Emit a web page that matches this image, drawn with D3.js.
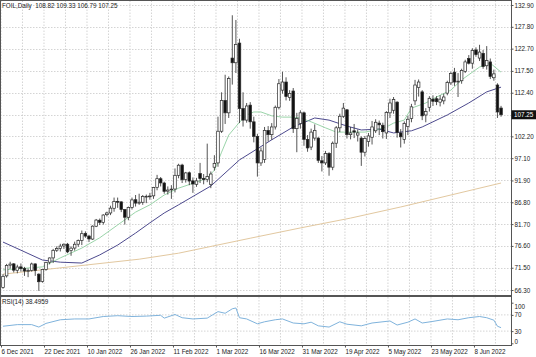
<!DOCTYPE html>
<html><head><meta charset="utf-8">
<script src="https://cdn.jsdelivr.net/npm/d3@7"></script>
<style>
html,body{margin:0;padding:0;background:#fff;}
svg{display:block;font-family:"Liberation Sans",Arial,sans-serif;}
</style></head>
<body><svg id="c" width="536" height="357"></svg>
<script>
const symbolTitle = "FOIL,Daily  108.82 109.33 106.79 107.25";
const rsiTitle = "RSI(14) 38.4959";
const opens = [66.9,69.6,72.1,72.4,70.9,71.7,71.3,70.7,70.9,72.4,70.0,68.3,71.1,72.8,73.8,75.6,76.0,76.6,77.0,75.5,76.1,77.0,77.9,79.5,78.9,78.2,81.2,82.6,82.1,83.9,84.3,85.4,87.0,86.9,85.1,83.3,85.6,87.4,86.6,86.8,88.2,88.2,88.3,90.3,92.3,91.3,89.4,89.7,89.9,93.1,95.5,92.1,93.7,91.8,91.0,93.5,92.4,92.1,91.0,95.0,96.0,103.4,110.6,107.7,120.5,119.4,124.0,108.7,106.0,109.5,105.6,102.2,96.0,96.8,103.6,102.6,104.4,109.0,113.0,114.9,111.3,112.8,104.0,105.2,107.7,101.5,99.7,101.8,101.8,96.5,96.0,98.2,95.0,100.6,104.2,106.9,108.4,102.6,103.5,102.5,101.8,98.5,101.0,102.0,103.5,105.3,104.8,103.0,107.7,108.3,110.2,103.0,101.5,104.5,106.4,110.5,113.6,112.6,107.2,109.0,110.9,111.0,110.2,110.5,112.3,114.7,117.2,115.0,115.2,117.4,120.4,119.3,122.4,120.5,121.6,118.7,119.6,115.9,114.2,108.82];
const highs = [70.0,72.4,72.9,72.6,72.2,72.5,71.7,71.3,72.7,72.5,70.2,71.2,72.9,73.9,75.9,76.5,77.1,77.2,77.3,76.5,77.6,78.1,80.2,80.0,79.2,81.4,82.9,83.0,84.0,84.6,86.0,87.9,87.9,87.0,85.2,85.8,87.9,88.5,88.8,88.5,88.6,89.0,90.4,93.2,92.7,91.6,90.5,90.8,94.7,95.8,95.8,93.9,94.0,92.6,92.5,96.0,93.4,100.5,94.0,97.8,106.8,112.5,116.6,116.2,130.5,129.4,125.0,112.5,110.0,110.2,106.8,102.8,99.6,104.4,104.6,105.3,109.4,115.6,117.3,116.0,113.0,113.5,107.7,108.3,108.0,102.5,104.0,105.0,102.0,97.6,98.8,98.5,101.0,104.6,107.5,110.0,108.6,104.4,105.1,103.8,102.2,102.3,103.0,105.8,106.2,105.9,105.4,108.1,111.0,111.4,110.4,103.9,105.7,107.0,109.8,115.4,115.5,113.0,108.8,111.6,111.8,111.6,111.8,112.2,115.2,117.3,118.2,117.0,118.0,120.1,121.2,122.8,123.0,123.6,122.4,123.3,120.4,117.8,114.6,109.33];
const lows = [66.6,69.2,71.3,70.4,70.2,70.6,69.6,69.3,70.6,69.6,66.1,68.0,70.8,72.3,72.6,75.2,75.3,75.9,74.9,74.3,75.5,76.4,76.8,78.5,77.5,78.0,81.0,81.5,81.6,83.5,83.8,84.6,85.5,84.5,81.6,82.6,85.1,85.8,86.2,86.2,86.6,87.4,87.6,89.6,90.5,88.8,88.6,87.6,89.1,92.4,91.3,91.4,90.8,89.0,90.4,91.3,91.0,91.5,90.1,94.2,95.1,103.0,105.1,106.5,114.3,117.0,105.3,104.5,105.4,104.0,100.8,92.8,95.3,96.0,101.0,101.4,103.8,108.5,112.2,110.6,110.5,103.0,98.5,104.0,100.0,98.6,99.0,101.2,96.0,94.0,95.5,93.0,94.3,99.5,103.2,106.5,101.7,101.5,101.8,101.0,95.3,97.5,99.8,100.3,103.0,102.5,101.7,101.6,106.5,107.5,101.9,99.6,100.5,102.5,105.5,109.5,111.5,106.0,105.5,108.0,109.3,109.5,109.2,109.7,111.8,114.2,114.0,111.4,114.5,117.0,119.0,118.0,120.8,119.8,118.0,117.8,115.6,115.2,106.5,106.79];
const closes = [69.5,72.05,72.36,70.94,71.67,71.29,70.73,70.87,72.38,70.86,68.23,71.12,72.76,73.79,75.57,75.98,76.56,76.99,75.21,76.08,76.99,77.85,79.46,78.9,78.23,81.22,82.64,82.12,83.82,84.3,85.43,86.96,86.9,85.14,83.31,85.6,87.35,86.61,86.82,88.15,88.2,88.26,90.27,92.31,91.32,89.36,89.66,89.88,93.1,95.46,92.07,93.66,91.76,91.07,91.8,92.35,92.1,92.81,93.4,95.9,103.4,110.6,107.7,115.7,119.4,123.7,108.7,106.0,109.3,105.6,102.2,96.0,98.8,103.6,102.6,104.4,109.0,114.5,114.9,111.5,112.2,104.0,106.4,107.7,101.5,99.5,103.2,103.6,96.6,96.0,98.2,95.0,100.6,104.2,106.9,108.8,102.6,103.0,103.2,103.0,98.5,101.7,102.3,104.4,105.5,104.9,103.3,107.8,110.0,110.8,103.1,102.1,105.2,106.2,109.1,114.2,114.9,107.0,108.0,111.1,110.4,110.3,110.9,111.4,114.8,116.9,114.9,115.1,117.6,119.6,119.3,122.3,121.3,121.9,118.5,119.9,116.2,116.8,107.9,107.25];

const dateTickIdx = [0,12,24,36,48,60,72,84,96,108,120,132];
const dateTickLabels = ["6 Dec 2021","22 Dec 2021","10 Jan 2022","26 Jan 2022","11 Feb 2022","1 Mar 2022","16 Mar 2022","31 Mar 2022","19 Apr 2022","5 May 2022","23 May 2022","8 Jun 2022"];
const priceTicks = [132.90,127.80,122.70,117.50,112.40,107.30,102.20,97.10,91.90,86.80,81.70,76.60,71.50,66.30];
const priceTickLabels = ["132.90","127.80","122.70","117.50","112.40","","102.20","97.10","91.90","86.80","81.70","76.60","71.50","66.30"];
const lastPrice = 107.25;
const rsiTicks = [100,70,30,0];

const maFast = [[0,71.0],[11,71.7],[16,73.8],[22,76.1],[27,78.5],[32,81.5],[37,84.5],[41,86.2],[45,88.5],[49,90.1],[54,91.5],[57,92.5],[59,94.3],[61,98.5],[63,102.5],[66,105.5],[68,107.2],[70,107.9],[72,107.9],[75,107.0],[78,106.7],[81,106.7],[83,106.5],[86,105.6],[90,104.2],[93,103.2],[95,103.2],[98,103.2],[101,103.2],[104,103.7],[107,104.4],[109,105.3],[112,106.0],[114,108.8],[118,110.0],[121,111.4],[125,113.0],[128,115.4],[133,118.4],[136,119.3],[139,117.2]];
const maMid = [[0,77.5],[5,75.6],[11,73.3],[16,72.8],[22,72.6],[27,74.5],[32,76.8],[37,79.6],[41,82.0],[45,84.3],[49,86.2],[58,90.6],[66,96.7],[75,101.4],[81,104.4],[87,106.5],[91,106.0],[96,104.6],[100,103.7],[105,103.9],[109,103.0],[114,103.5],[117,104.4],[124,107.2],[130,110.0],[135,112.6],[139,113.7]];
const maSlow = [[0,70.0],[38,73.5],[49,74.9],[69,78.4],[83,80.8],[97,83.1],[111,85.7],[125,88.5],[139,91.3]];
const rsi = [[0,42],[4,46],[8,46],[10,40],[12,49],[16,58],[20,60],[24,60],[28,66],[32,68],[36,66],[40,67],[44,69],[45,62],[48,71],[50,63],[53,60],[57,62],[60,78],[62,74],[64,85],[65,87],[66,63],[68,60],[71,48],[73,53],[76,58],[78,60],[81,50],[84,48],[86,52],[88,43],[91,40],[94,53],[96,47],[100,43],[103,50],[108,55],[110,45],[113,52],[115,60],[117,50],[120,54],[124,60],[127,58],[130,63],[133,66],[135,63],[137,57],[138,42],[139,38.5]];

const svg = d3.select("#c");
const W = 536, plotR = 511.5;
const x = d3.scaleLinear().domain([0,139]).range([3, 3+139*3.583]);
const xLab = d3.scaleLinear().domain([0,139]).range([1, 1+139*3.583]);
const y = d3.scaleLinear().domain([66.3,132.9]).range([290,5]);
const yr = d3.scaleLinear().domain([0,100]).range([343.3,302.7]);
const mainTop=0.5, mainBot=295, rsiTop=297, rsiBot=345.5;
const gridCol="#c9c9c9";
const FONT = "Liberation Sans";
const fs = "6.3px";

const vgrid = d3.range(0,140,6);
svg.append("g").selectAll("line").data(vgrid).join("line")
  .attr("x1",d=>xLab(d)).attr("x2",d=>xLab(d)).attr("y1",mainTop).attr("y2",mainBot)
  .attr("stroke",gridCol).attr("stroke-width",0.8).attr("stroke-dasharray","1.5,1.5");
svg.append("g").selectAll("line").data(vgrid).join("line")
  .attr("x1",d=>xLab(d)).attr("x2",d=>xLab(d)).attr("y1",rsiTop).attr("y2",rsiBot)
  .attr("stroke",gridCol).attr("stroke-width",0.8).attr("stroke-dasharray","1.5,1.5");
svg.append("g").selectAll("line").data(priceTicks).join("line")
  .attr("x1",0).attr("x2",plotR).attr("y1",d=>Math.round(y(d))+0.5).attr("y2",d=>Math.round(y(d))+0.5)
  .attr("stroke",gridCol).attr("stroke-width",0.8).attr("stroke-dasharray","1.5,1.5");
svg.append("g").selectAll("line").data([70,30]).join("line")
  .attr("x1",0).attr("x2",plotR).attr("y1",d=>yr(d)).attr("y2",d=>yr(d))
  .attr("stroke",gridCol).attr("stroke-width",0.8).attr("stroke-dasharray","1.5,1.5");

const line = d3.line().x(d=>x(d[0])).y(d=>y(d[1]));
svg.append("path").attr("d",line(maSlow)).attr("fill","none").attr("stroke","#e2c8a0").attr("stroke-width",1);
svg.append("path").attr("d",line(maMid)).attr("fill","none").attr("stroke","#4d4a8e").attr("stroke-width",1);
svg.append("path").attr("d",line(maFast)).attr("fill","none").attr("stroke","#8fcf9f").attr("stroke-width",0.9);

const idx = d3.range(closes.length);
const cg = svg.append("g");
cg.selectAll("line").data(idx).join("line")
  .attr("x1",i=>x(i)).attr("x2",i=>x(i)).attr("y1",i=>y(highs[i])).attr("y2",i=>y(lows[i]))
  .attr("stroke","#2a2a2a").attr("stroke-width",0.8);
cg.selectAll("rect").data(idx).join("rect")
  .attr("x",i=>x(i)-1.3).attr("width",2.6)
  .attr("y",i=>y(Math.max(opens[i],closes[i])))
  .attr("height",i=>Math.max(0.8,Math.abs(y(opens[i])-y(closes[i]))))
  .attr("fill",i=>closes[i]<opens[i]?"#111":"#fff")
  .attr("stroke","#2a2a2a").attr("stroke-width",0.7);

const rline = d3.line().x(d=>x(d[0])).y(d=>yr(d[1]));
svg.append("path").attr("d",rline(rsi)).attr("fill","none").attr("stroke","#7fb3dc").attr("stroke-width",1);

svg.append("rect").attr("x",0.5).attr("y",mainTop).attr("width",plotR-0.5).attr("height",rsiBot-mainTop)
  .attr("fill","none").attr("stroke","#555").attr("stroke-width",1);
svg.append("line").attr("x1",0).attr("x2",plotR).attr("y1",296).attr("y2",296).attr("stroke","#555").attr("stroke-width",2);

const ay = d3.axisRight(y).tickValues(priceTicks).tickSize(2).tickPadding(1).tickFormat((d,i)=>priceTickLabels[i]);
const gy = svg.append("g").attr("transform",`translate(${plotR},0)`).call(ay);
gy.select(".domain").remove();
gy.selectAll("text").attr("font-size",fs).attr("fill","#222").attr("font-family",FONT);
gy.selectAll("line").attr("stroke","#555");

const ar = d3.axisRight(yr).tickValues(rsiTicks).tickSize(2).tickPadding(1);
const gr = svg.append("g").attr("transform",`translate(${plotR},0)`).call(ar);
gr.select(".domain").remove();
gr.selectAll("text").attr("font-size",fs).attr("fill","#222").attr("font-family",FONT)
  .attr("dy",(d)=>d===100?"0.9em":(d===0?"0.1em":"0.32em"));
gr.selectAll("line").attr("stroke","#555");

const ax = d3.axisBottom(xLab).tickValues(dateTickIdx).tickSize(2).tickPadding(2).tickFormat((d,i)=>dateTickLabels[i]);
const gx = svg.append("g").attr("transform",`translate(0,${rsiBot})`).call(ax);
gx.select(".domain").remove();
gx.selectAll("text").attr("font-size",fs).attr("fill","#222").attr("text-anchor","start").attr("font-family",FONT);
gx.selectAll("line").attr("stroke","#555");

svg.append("rect").attr("x",plotR).attr("y",y(lastPrice)-4.5).attr("width",W-plotR).attr("height",9).attr("fill","#111");
svg.append("text").attr("x",plotR+2.5).attr("y",y(lastPrice)+2.2).text(lastPrice.toFixed(2))
  .attr("font-size",fs).attr("fill","#fff").attr("font-family",FONT);

svg.append("text").attr("x",2).attr("y",8).text(symbolTitle).attr("font-size","6.3px").attr("fill","#222").attr("font-family",FONT).style("white-space","pre");
svg.append("text").attr("x",2).attr("y",304).text(rsiTitle).attr("font-size","6.3px").attr("fill","#222").attr("font-family",FONT);
</script></body></html>
